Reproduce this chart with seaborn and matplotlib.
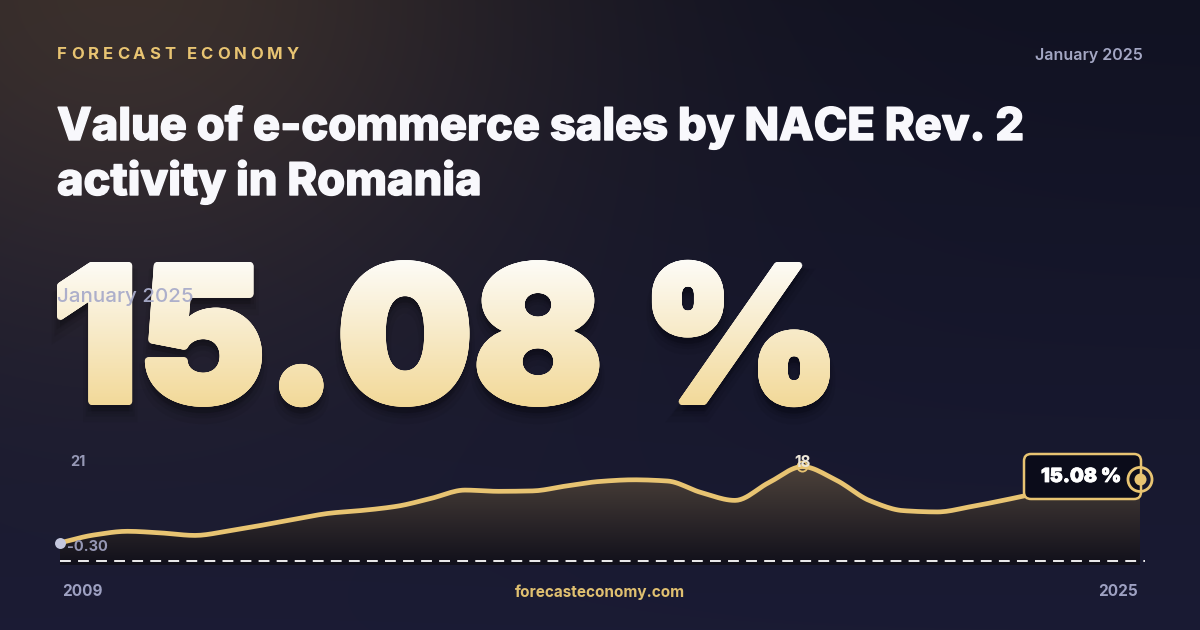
import numpy as np
import matplotlib
matplotlib.use("Agg")
import matplotlib.pyplot as plt
import seaborn as sns
from matplotlib import font_manager as fm
from matplotlib import patheffects as pe
from matplotlib.textpath import TextPath
from matplotlib.font_manager import FontProperties
from matplotlib.patches import PathPatch, FancyBboxPatch
from matplotlib.transforms import Affine2D

# Data (half-year steps, 2009 -> 2025)
periods = [2009.0, 2009.5, 2010.0, 2010.5, 2011.0, 2011.5, 2012.0, 2012.5,
           2013.0, 2013.5, 2014.0, 2014.5, 2015.0, 2015.5, 2016.0, 2016.5,
           2017.0, 2017.5, 2018.0, 2018.5, 2019.0, 2019.5, 2020.0, 2020.5,
           2021.0, 2021.5, 2022.0, 2022.5, 2023.0, 2023.5, 2024.0, 2024.5,
           2025.0]
values = [-0.30, 1.6, 2.5, 2.1, 1.5, 2.6, 4.0, 5.5,
          6.9, 7.6, 8.6, 10.5, 12.5, 12.2, 12.3, 13.5,
          14.6, 15.0, 14.7, 11.9, 10.0, 14.3, 18.2, 14.9,
          9.9, 7.5, 7.2, 8.5, 10.1, 11.8, 13.0, 14.2,
          15.08]

brand = "FORECAST ECONOMY"
date_label = "January 2025"
title_lines = ["Value of e-commerce sales by NACE Rev. 2", "activity in Romania"]
headline = "15.08 %"
last_label = "15.08 %"
axis_top = "21"
axis_low = "-0.30"
peak_label = "18"
first_year = "2009"
last_year = "2025"
site = "forecasteconomy.com"

sns.set_theme(style="dark")
plt.rcParams['font.family'] = ['Inter', 'DejaVu Sans']

GOLD = "#e8c472"
GREY = "#a4a7c4"
WHITE = "#f8f8fc"


def inter_file(name, weight):
    for f in fm.fontManager.ttflist:
        if f.fname.endswith(name):
            return FontProperties(fname=f.fname)
    return FontProperties(family=['Inter', 'DejaVu Sans'], weight=weight)


fp_black = inter_file('Inter-Black.otf', 'black')
fp_xbold = inter_file('Inter-ExtraBold.otf', 'heavy')


def smooth(xs, ys, n=12):
    # monotone cubic (Fritsch-Carlson) just for drawing the curve
    xs = np.asarray(xs, float)
    ys = np.asarray(ys, float)
    h = np.diff(xs)
    dl = np.diff(ys) / h
    m = np.zeros_like(ys)
    m[0], m[-1] = dl[0], dl[-1]
    for i in range(1, len(ys) - 1):
        if dl[i - 1] * dl[i] > 0:
            w1 = 2 * h[i] + h[i - 1]
            w2 = h[i] + 2 * h[i - 1]
            m[i] = (w1 + w2) / (w1 / dl[i - 1] + w2 / dl[i])
    ox, oy = [], []
    for i in range(len(h)):
        s = np.linspace(0, 1, n, endpoint=False)
        h00 = 2 * s**3 - 3 * s**2 + 1
        h10 = s**3 - 2 * s**2 + s
        h01 = -2 * s**3 + 3 * s**2
        h11 = s**3 - s**2
        ox.extend(xs[i] + s * h[i])
        oy.extend(h00 * ys[i] + h10 * h[i] * m[i] + h01 * ys[i + 1] + h11 * h[i] * m[i + 1])
    ox.append(xs[-1])
    oy.append(ys[-1])
    return np.array(ox), np.array(oy)


fig = plt.figure(figsize=(12, 6.3), dpi=100)

# full-figure axes in pixel units for the card itself
bg = fig.add_axes([0, 0, 1, 1])
bg.set_xlim(0, 1200)
bg.set_ylim(630, 0)
bg.axis('off')

yy, xx = np.mgrid[0:630, 0:1200]
t = (yy / 630.0)[..., None]
top = np.array([17, 18, 34]) / 255
bot = np.array([26, 27, 52]) / 255
img = top * (1 - t) + bot * t
d = np.sqrt((xx - 120) ** 2 + 1.4 * (yy + 40) ** 2)
w = np.exp(-(d / 430.0) ** 2)[..., None]
img = np.clip(img + w * np.array([42, 30, 10]) / 255, 0, 1)
bg.imshow(img, extent=(0, 1200, 630, 0), zorder=0, aspect='auto')

# brand with letter spacing
renderer = fig.canvas.get_renderer()
x = 57
for ch in brand:
    if ch == " ":
        x += 7
        continue
    tx = bg.text(x, 59, ch, fontsize=12, weight='bold', color=GOLD, va='baseline', ha='left')
    bb = tx.get_window_extent(renderer)
    x += bb.width + 4.0

bg.text(1143, 60, date_label, fontsize=11.5, weight='semibold', color=GREY,
        ha='right', va='baseline')

for i, line in enumerate(title_lines):
    bg.text(57, 140 + 55 * i, line, fontsize=32.5, fontproperties=fp_xbold,
            color=WHITE, va='baseline',
            path_effects=[pe.withStroke(linewidth=1.0, foreground=WHITE)])

# big headline number: Inter Black, slightly fattened by offset copies, gradient fill
R = 3.0
tp = TextPath((0, 0), headline, size=200, prop=fp_black)
ext = tp.get_extents()
cap = TextPath((0, 0), "1", size=200, prop=fp_black).get_extents().height
sx = (773.0 - 2 * R) / ext.width
sy = (143.0 - 2 * R) / cap
trans = Affine2D().translate(-ext.x0, 0).scale(sx, -sy).translate(57 + R, 405 - R)
path = trans.transform_path(tp)

for off, lw, a in [(12, 12, 0.05), (9, 8, 0.07), (6, 5, 0.09)]:
    sh = Affine2D().translate(0, off).transform_path(path)
    bg.add_patch(PathPatch(sh, facecolor='black', edgecolor='black', lw=lw,
                           alpha=a, zorder=2))

g = np.linspace(0, 1, 200)[:, None, None]
c_top = np.array([253, 252, 248]) / 255
c_bot = np.array([242, 216, 150]) / 255
grad = c_top * (1 - g) + c_bot * g
offsets = [(0.0, 0.0)]
for k in range(24):
    a = 2 * np.pi * k / 24
    offsets.append((R * np.cos(a), R * np.sin(a)))
for k in range(12):
    a = 2 * np.pi * (k + 0.5) / 12
    offsets.append((0.6 * R * np.cos(a), 0.6 * R * np.sin(a)))
for dx, dy in offsets:
    p = Affine2D().translate(dx, dy).transform_path(path)
    clip = PathPatch(p, facecolor='none', edgecolor='none', zorder=3)
    bg.add_patch(clip)
    im = bg.imshow(grad, extent=(50, 900, 410, 258), zorder=3, aspect='auto')
    im.set_clip_path(clip)

bg.text(57, 302, date_label, fontsize=14.8, weight='medium', color='#a9acca',
        alpha=0.95, va='baseline', zorder=4)

# footer
bg.text(62, 592, first_year, fontsize=11, weight='bold', color='#9ea1c2', va='center')
bg.text(1138, 592, last_year, fontsize=11, weight='bold', color='#9ea1c2', va='center', ha='right')
bg.text(600, 592, site, fontsize=11, weight='bold', color='#e0c070', va='center', ha='center')

# line chart
ymin, ymax = -5.8, 21
px_per = 4.121
h_px = (ymax - ymin) * px_per
ax = fig.add_axes([60 / 1200, (630 - 565.5) / 630, 1080 / 1200, h_px / 630])
ax.set_xlim(periods[0], periods[-1])
ax.set_ylim(ymin, ymax)
ax.patch.set_alpha(0)
ax.axis('off')

cx, cy = smooth(periods, values)

poly = ax.fill_between(cx, cy, ymin, color='none', linewidth=0)
fill_patch = PathPatch(poly.get_paths()[0], transform=ax.transData,
                       facecolor='none', edgecolor='none')
ax.add_patch(fill_patch)
gf = np.linspace(0, 1, 200)[:, None, None]
f_top = np.array([84, 72, 62]) / 255
f_bot = np.array([17, 16, 27]) / 255
fgrad = f_top * (1 - gf) + f_bot * gf
fim = ax.imshow(fgrad, extent=(periods[0], periods[-1], ymin, ymax), aspect='auto', zorder=1)
fim.set_clip_path(fill_patch)

ax.plot([periods[0], periods[-1] + 0.08], [-4.6, -4.6], color='white', lw=1.3,
        dashes=(6, 4), zorder=2, clip_on=False)

sns.lineplot(x=cx, y=cy, ax=ax, color=GOLD, linewidth=3.4, zorder=5, sort=False,
             estimator=None, solid_joinstyle='round', solid_capstyle='round')

ax.scatter([periods[0]], [values[0]], s=62, color='#c4c7de', zorder=6, clip_on=False,
           linewidths=0)

pk = int(np.argmax(values))
ax.scatter([periods[pk]], [values[pk]], s=52, facecolors='none', edgecolors=GOLD,
           linewidths=1.3, zorder=6)
ax.annotate(peak_label, (periods[pk], values[pk]), xytext=(0, 3), textcoords='offset points',
            ha='center', va='center', fontsize=11, weight='bold', color='#ece6d8', zorder=7)

box = FancyBboxPatch((1024, 454), 117, 45, boxstyle='round,pad=0,rounding_size=7',
                     transform=bg.transData, facecolor='#0b0c1a', edgecolor=GOLD,
                     linewidth=1.8, zorder=7, clip_on=False)
ax.add_patch(box)
ax.text(1081, 477, last_label, transform=bg.transData, fontsize=14, fontproperties=fp_black,
        color='white', ha='center', va='center', zorder=8, clip_on=False,
        path_effects=[pe.withStroke(linewidth=0.6, foreground='white')])

ax.scatter([periods[-1]], [values[-1]], s=300, facecolors='none', edgecolors=GOLD,
           linewidths=2, zorder=9, clip_on=False)
ax.scatter([periods[-1]], [values[-1]], s=75, color=GOLD, zorder=9, clip_on=False,
           linewidths=0)

ax.text(70, 455, axis_top, transform=bg.transData, fontsize=10.5, weight='bold',
        color='#9698b5', ha='left', va='top', zorder=8)
ax.text(67, 547, axis_low, transform=bg.transData, fontsize=10.5, weight='bold',
        color='#9698b5', ha='left', va='center', zorder=8)

fig.savefig("out.png", dpi=100)
